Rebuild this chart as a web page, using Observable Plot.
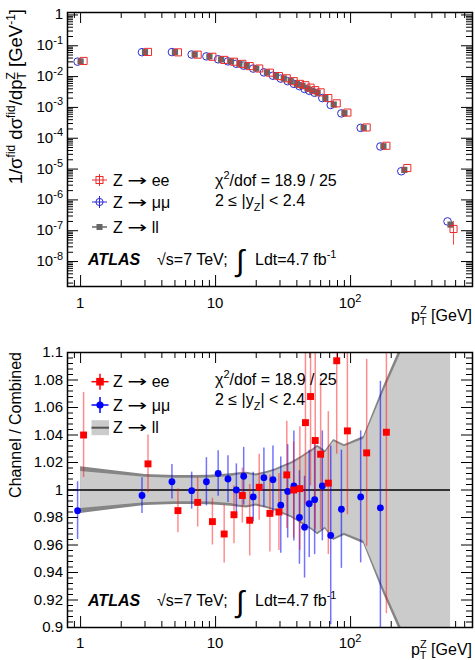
<!DOCTYPE html>
<html><head><meta charset="utf-8">
<script src="https://cdn.jsdelivr.net/npm/d3@7"></script>
<script src="https://cdn.jsdelivr.net/npm/@observablehq/plot@0.6"></script>
<style>
html,body{margin:0;padding:0;background:#fff;}
#chart{width:475px;height:660px;overflow:hidden;}
#chart svg{display:block;overflow:hidden;}
</style></head><body><div id="chart"></div>
<script>
// ---------- data ----------
const pt = [1,3,5,7,9,11,13,15,17,20,24,28,32,36,40,44,48,52,57,65,75,90,125,175,250,550];
const llTop = [0.031,0.062,0.062,0.052,0.045,0.036,0.031,0.026,0.0224,0.0183,0.0136,0.0106,0.0087,0.0071,0.0058,0.0050,0.0041,0.0035,0.0030,0.0020,0.00124,0.00065,0.000218,5.5e-5,9.4e-6,1.58e-7];
const eeTop = [0.0322,0.0632,0.0611,0.0515,0.0440,0.0348,0.0304,0.0259,0.0219,0.0183,0.0134,0.0104,0.0088,0.0071,0.0058,0.00525,0.00438,0.00363,0.00308,0.00201,0.00136,0.00068,0.000224,5.7e-5,1.08e-5,1.14e-7];
const mmTop = [0.0305,0.0618,0.0623,0.0520,0.0453,0.0364,0.0312,0.0260,0.0226,0.0182,0.0137,0.0107,0.0086,0.0071,0.00582,0.0049,0.00399,0.00347,0.00298,0.00201,0.0012,0.00064,0.000217,5.4e-5,8.5e-6,2.0e-7];
const eeTopErr = [0,0,0,0,0,0,0,0,0,0,0,0,0,0,0,0,0,0,0,0,0,0,0,0,0,8e-8];

// ratio panel (first 24 bins)
const rEE = [1.040,1.019,0.985,0.991,0.977,0.968,0.982,0.996,0.978,1.002,0.983,0.984,1.011,1.000,1.001,1.049,1.068,1.036,1.026,1.005,1.094,1.043,1.027,1.042];
const eEE = [0.031,0.021,0.016,0.018,0.017,0.021,0.021,0.020,0.026,0.024,0.028,0.028,0.039,0.035,0.045,0.060,0.065,0.065,0.055,0.052,0.068,0.061,0.068,0.132];
const rMM = [0.985,0.996,1.006,0.9995,1.006,1.012,1.008,1.000,1.010,0.995,1.009,1.0075,0.989,0.999,1.003,0.980,0.973,0.990,0.993,1.003,0.967,0.986,0.995,0.987];
const eMM = [0.021,0.013,0.0125,0.0135,0.0175,0.0165,0.017,0.019,0.021,0.018,0.0215,0.0245,0.035,0.034,0.040,0.034,0.037,0.039,0.040,0.040,0.065,0.043,0.048,0.092];
// combined uncertainty band (half widths)
const bandOuter = [0.017,0.0112,0.0105,0.0105,0.0107,0.0112,0.0118,0.0125,0.013,0.0117,0.0135,0.0155,0.018,0.020,0.0225,0.025,0.0275,0.0295,0.0325,0.0285,0.0368,0.033,0.039,0.075,0.11,0.40];
const bandInner = [0.0135,0.0092,0.0085,0.0085,0.0087,0.0092,0.0098,0.011,0.0115,0.0102,0.012,0.014,0.0165,0.0185,0.021,0.0235,0.026,0.028,0.031,0.027,0.0353,0.0315,0.037,0.071,0.105,0.39];

// axes
const xDomain = [0.8, 800];
const xMajor = [1, 10, 100];
const xLabels = [["1",""],["10",""],["10","2"]];
const xMinor = [0.9,2,3,4,5,6,7,8,9,20,30,40,50,60,70,80,90,200,300,400,500,600,700];
const yTopDomain = [1.55e-9, 1.2];
const yTopMajor = [1,1e-1,1e-2,1e-3,1e-4,1e-5,1e-6,1e-7,1e-8];
const yTopLabels = [["1",""],["10","-1"],["10","-2"],["10","-3"],["10","-4"],["10","-5"],["10","-6"],["10","-7"],["10","-8"]];
const yBotDomain = [0.9, 1.1];
const yBotMajor = [0.9,0.92,0.94,0.96,0.98,1,1.02,1.04,1.06,1.08,1.1];
const yBotLabels = ["0.9","0.92","0.94","0.96","0.98","1","1.02","1.04","1.06","1.08","1.1"];

const yTopMinor = [];
for (let k = -9; k <= -1; k++) for (let m = 2; m <= 9; m++) { const v = m * Math.pow(10, k); if (v >= yTopDomain[0]) yTopMinor.push(v); }
const yBotMinor = [];
for (let i = 0; i <= 50; i++) { if (i % 5) yBotMinor.push(0.9 + i * 0.004); }

// ---------- layout ----------
const FONT = "'Liberation Sans', Arial, Helvetica, sans-serif";
const W = 475, ML = 67, MR = 3;
const FW = W - ML - MR;
const TL = 11, TS = 6;
const RED = "#ff0000", BLUE = "#0000ff", GRAY = "#666666";

function tickMarks(yMaj, yMin, fh) {
  const st = {stroke: "black", strokeWidth: 1};
  return [
    Plot.tickX(xMajor, {x: d => d, insetTop: fh - TL, ...st}),
    Plot.tickX(xMajor, {x: d => d, insetBottom: fh - TL, ...st}),
    Plot.tickX(xMinor, {x: d => d, insetTop: fh - TS, ...st}),
    Plot.tickX(xMinor, {x: d => d, insetBottom: fh - TS, ...st}),
    Plot.tickY(yMaj, {y: d => d, insetRight: FW - TL, ...st}),
    Plot.tickY(yMaj, {y: d => d, insetLeft: FW - TL, ...st}),
    Plot.tickY(yMin, {y: d => d, insetRight: FW - TS, ...st}),
    Plot.tickY(yMin, {y: d => d, insetLeft: FW - TS, ...st})
  ];
}

function rich(svg, x, y, parts, {size = 16, anchor = "start", rotate = 0, weight = null, style = null} = {}) {
  const t = svg.append("text").attr("x", x).attr("y", y)
    .attr("font-family", FONT).attr("font-size", size)
    .attr("text-anchor", anchor).attr("fill", "black");
  if (weight) t.attr("font-weight", weight);
  if (style) t.attr("font-style", style);
  if (rotate) t.attr("transform", `rotate(${rotate},${x},${y})`);
  let cur = 0;
  for (const p of parts) {
    const o = typeof p === "string" ? {s: p} : p;
    const k = o.k || 0;
    const ts = t.append("tspan").text(o.s);
    if (k !== cur) { ts.attr("dy", k - cur); cur = k; }
    if (o.fs) ts.attr("font-size", o.fs);
    if (o.dx) ts.attr("dx", o.dx);
    if (o.ff) ts.attr("font-family", o.ff);
    if (o.len) ts.attr("textLength", o.len).attr("lengthAdjust", "spacingAndGlyphs");
  }
  return t;
}
const ARROW = {s: "→", ff: "'DejaVu Sans', sans-serif", len: 20};

// ---------- top panel ----------
const HT = 335, MT_T = 12, MB_T = 49;
const FH_T = HT - MT_T - MB_T;
const topRows = pt.map((x, i) => ({x, ll: llTop[i], ee: eeTop[i], mm: mmTop[i], eeErr: eeTopErr[i]}));

const topPlot = Plot.plot({
  width: W, height: HT,
  marginLeft: ML, marginRight: MR, marginTop: MT_T, marginBottom: MB_T,
  style: {fontFamily: FONT, background: "white"},
  x: {type: "log", domain: xDomain, axis: null},
  y: {type: "log", domain: yTopDomain, axis: null},
  marks: [
    ...tickMarks(yTopMajor, yTopMinor, FH_T),
    Plot.dot(topRows, {x: "x", y: "mm", dx: -3, r: 3.8, stroke: "#2a2ad8", strokeWidth: 1, fill: "none"}),
    Plot.dot(topRows, {x: "x", y: "ll", symbol: "square", r: 3.5, fill: GRAY, stroke: "none"}),
    Plot.ruleX(topRows.filter(d => d.eeErr > 0), {x: "x", y1: d => d.ee - d.eeErr, y2: d => d.ee + d.eeErr, dx: 3, stroke: "#ff4040", strokeWidth: 1}),
    Plot.dot(topRows, {x: "x", y: "ee", dx: 3, symbol: "square", r: 4, stroke: "#f02828", strokeWidth: 1, fill: "none"}),
    Plot.frame({stroke: "black", strokeWidth: 1.5})
  ]
});

// ---------- bottom panel ----------
const HB = 325, MT_B = 17, MB_B = 33;
const FH_B = HB - MT_B - MB_B;
const ratioRows = rEE.map((v, i) => ({x: pt[i], ee: v, eeErr: eEE[i], mm: rMM[i], mmErr: eMM[i]}));
const bandRows = pt.map((x, i) => ({x, uo: bandOuter[i], ui: bandInner[i]}));

const botPlot = Plot.plot({
  width: W, height: HB,
  marginLeft: ML, marginRight: MR, marginTop: MT_B, marginBottom: MB_B,
  style: {fontFamily: FONT, background: "white"},
  x: {type: "log", domain: xDomain, axis: null},
  y: {domain: yBotDomain, axis: null},
  marks: [
    ...tickMarks(yBotMajor, yBotMinor, FH_B),
    Plot.areaY(bandRows, {x: "x", y1: d => 1 - d.uo, y2: d => 1 + d.uo, fill: "#858585", clip: true}),
    Plot.areaY(bandRows, {x: "x", y1: d => 1 - d.ui, y2: d => 1 + d.ui, fill: "#cbcbcb", clip: true}),
    Plot.ruleY([1], {x1: xDomain[0], x2: pt[pt.length - 1], stroke: "black", strokeWidth: 1.5}),
    Plot.ruleX(ratioRows, {x: "x", y1: d => d.mm - d.mmErr, y2: d => d.mm + d.mmErr, dx: -3, stroke: BLUE, strokeOpacity: 0.55, strokeWidth: 1.5, clip: true}),
    Plot.ruleX(ratioRows, {x: "x", y1: d => d.ee - d.eeErr, y2: d => d.ee + d.eeErr, dx: 3, stroke: RED, strokeOpacity: 0.45, strokeWidth: 1.5, clip: true}),
    Plot.dot(ratioRows, {x: "x", y: "mm", dx: -3, r: 3.4, fill: BLUE, stroke: "none"}),
    Plot.dot(ratioRows, {x: "x", y: "ee", dx: 3, symbol: "square", r: 3.9, fill: RED, stroke: "none"}),
    Plot.frame({stroke: "black", strokeWidth: 1.5})
  ]
});

const chart = document.getElementById("chart");
chart.appendChild(topPlot);
chart.appendChild(botPlot);

// ---------- labels & annotations ----------
function axisLabels(plot, svg, yMaj, yLab, isLog, xBase) {
  const sx = plot.scale("x"), sy = plot.scale("y");
  xMajor.forEach((v, i) => {
    const [a, b] = xLabels[i];
    const parts = [a];
    if (b) parts.push({s: b, k: -6, fs: 11});
    rich(svg, sx.apply(v), xBase, parts, {size: 15, anchor: "middle"});
  });
  yMaj.forEach((v, i) => {
    const y = sy.apply(v);
    if (isLog) {
      const [a, b] = yLab[i];
      const parts = [a];
      if (b) parts.push({s: b, k: -6.5, fs: 11});
      rich(svg, 63, y + 5, parts, {size: 15, anchor: "end"});
    } else {
      rich(svg, 63, y + 5.3, [yLab[i]], {size: 15, anchor: "end"});
    }
  });
}

const sT = d3.select(topPlot), sB = d3.select(botPlot);
axisLabels(topPlot, sT, yTopMajor, yTopLabels, true, 308);
axisLabels(botPlot, sB, yBotMajor, yBotLabels, false, 313);

// x titles
function xTitle(svg, yb) {
  rich(svg, 472, yb, ["p", {s: "T", k: 3.5, fs: 11}, {s: "Z", k: -7, fs: 11, dx: -6.7}, {s: " [GeV]", k: 0}], {size: 16, anchor: "end"});
}
xTitle(sT, 321);
xTitle(sB, 320);

// y titles
rich(sT, 22, 9, ["1/σ", {s: "fid", k: -7.5, fs: 12}, {s: " dσ", k: 0}, {s: "fid", k: -7.5, fs: 12}, {s: "/dp", k: 0},
  {s: "T", k: 4, fs: 12}, {s: "Z", k: -7.5, fs: 12, dx: -7.3}, {s: " [GeV", k: 0}, {s: "-1", k: -7.5, fs: 12}, {s: "]", k: 0}],
  {size: 18.5, anchor: "end", rotate: -90});
rich(sB, 21, 17, ["Channel / Combined"], {size: 16, anchor: "end", rotate: -90});

// legend helpers
function legTop(svg) {
  const g = svg.append("g");
  g.append("line").attr("x1", 92).attr("x2", 107).attr("y1", 180).attr("y2", 180).attr("stroke", "#f02828");
  g.append("line").attr("x1", 99.5).attr("x2", 99.5).attr("y1", 174).attr("y2", 186).attr("stroke", "#f02828");
  g.append("rect").attr("x", 96).attr("y", 176.5).attr("width", 7).attr("height", 7).attr("fill", "none").attr("stroke", "#f02828");
  g.append("line").attr("x1", 92).attr("x2", 107).attr("y1", 202).attr("y2", 202).attr("stroke", "#2a2ad8");
  g.append("line").attr("x1", 99.5).attr("x2", 99.5).attr("y1", 196).attr("y2", 208).attr("stroke", "#2a2ad8");
  g.append("circle").attr("cx", 99.5).attr("cy", 202).attr("r", 3.6).attr("fill", "none").attr("stroke", "#2a2ad8");
  g.append("line").attr("x1", 92).attr("x2", 107).attr("y1", 227).attr("y2", 227).attr("stroke", GRAY).attr("stroke-width", 1.5);
  g.append("rect").attr("x", 96.5).attr("y", 224).attr("width", 6).attr("height", 6).attr("fill", GRAY);
  rich(svg, 113, 185.5, ["Z ", ARROW, " ee"], {size: 16});
  rich(svg, 113, 207.5, ["Z ", ARROW, " μμ"], {size: 16});
  rich(svg, 113, 232.5, ["Z ", ARROW, " ll"], {size: 16});
}
function legBot(svg) {
  const g = svg.append("g");
  const y1 = 46.7, y2 = 70, y3 = 92.7;
  g.append("line").attr("x1", 91.5).attr("x2", 108.5).attr("y1", y1).attr("y2", y1).attr("stroke", RED).attr("stroke-width", 1.5);
  g.append("line").attr("x1", 100).attr("x2", 100).attr("y1", y1 - 8).attr("y2", y1 + 8).attr("stroke", RED).attr("stroke-width", 1.5);
  g.append("rect").attr("x", 96.2).attr("y", y1 - 3.8).attr("width", 7.6).attr("height", 7.6).attr("fill", RED);
  g.append("line").attr("x1", 91.5).attr("x2", 108.5).attr("y1", y2).attr("y2", y2).attr("stroke", BLUE).attr("stroke-width", 1.5);
  g.append("line").attr("x1", 100).attr("x2", 100).attr("y1", y2 - 8).attr("y2", y2 + 8).attr("stroke", BLUE).attr("stroke-width", 1.5);
  g.append("circle").attr("cx", 100).attr("cy", y2).attr("r", 3.6).attr("fill", BLUE);
  g.append("rect").attr("x", 91.5).attr("y", y3 - 7.5).attr("width", 17.5).attr("height", 15).attr("fill", "#cbcbcb");
  g.append("line").attr("x1", 91.5).attr("x2", 109).attr("y1", y3).attr("y2", y3).attr("stroke", "#555").attr("stroke-width", 2);
  rich(svg, 113, y1 + 5.5, ["Z ", ARROW, " ee"], {size: 16});
  rich(svg, 113, y2 + 5.5, ["Z ", ARROW, " μμ"], {size: 16});
  rich(svg, 113, y3 + 5.5, ["Z ", ARROW, " ll"], {size: 16});
}
function infoText(svg, yb1, yb2) {
  rich(svg, 215, yb1, ["χ", {s: "2", k: -7, fs: 11}, {s: "/dof = 18.9 / 25", k: 0}], {size: 16});
  rich(svg, 215, yb2, ["2 ≤ |y", {s: "Z", k: 5, fs: 11}, {s: "| < 2.4", k: 0}], {size: 16});
}
function atlasText(svg, yb) {
  rich(svg, 88, yb, ["ATLAS"], {size: 16, weight: "bold", style: "italic"});
  rich(svg, 157, yb, ["√s=7 TeV;"], {size: 16});
  rich(svg, 236, yb + 6, ["∫"], {size: 30});
  rich(svg, 255, yb, ["Ldt=4.7 fb", {s: "-1", k: -7, fs: 11}], {size: 16});
}
legTop(sT);
infoText(sT, 185.5, 206);
atlasText(sT, 265);
legBot(sB);
infoText(sB, 50, 70);
atlasText(sB, 271);
</script>
</body></html>
